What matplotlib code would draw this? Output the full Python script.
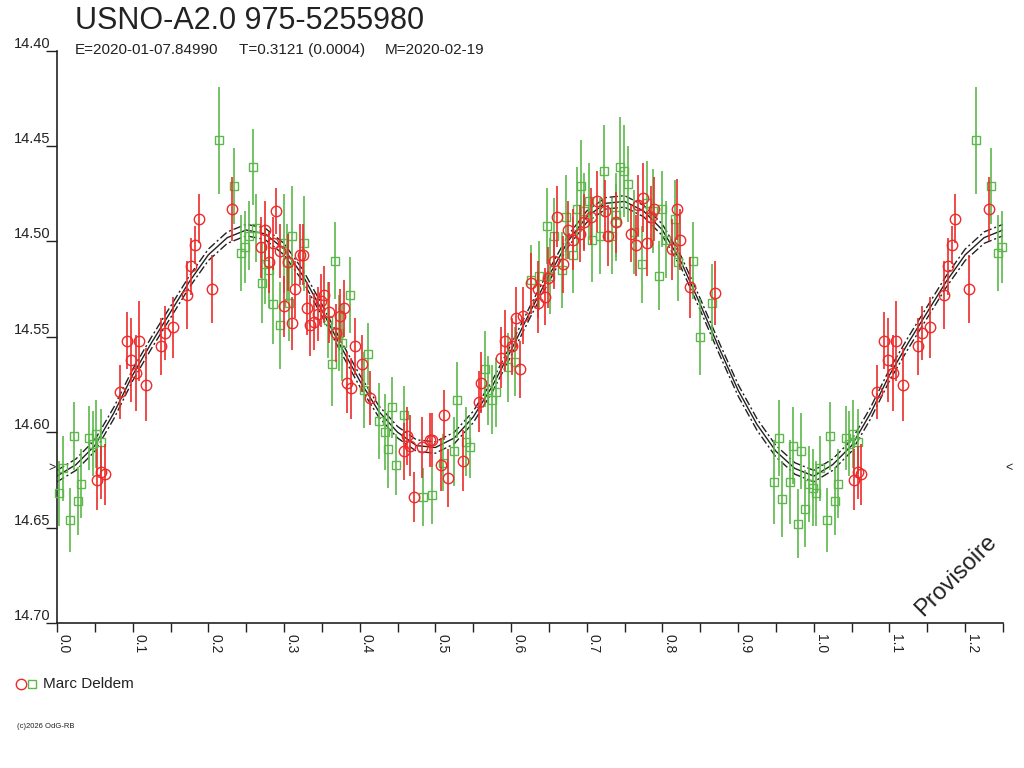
import numpy as np
import matplotlib
matplotlib.use("Agg")
import matplotlib.pyplot as plt
from matplotlib.ticker import MultipleLocator, FormatStrFormatter

plt.rcParams['font.family'] = ['Liberation Sans', 'DejaVu Sans']

TITLE = "USNO-A2.0 975-5255980"
EPOCH = "E=2020-01-07.84990"
PERIOD = "T=0.3121 (0.0004)"
MEAN = "M=2020-02-19"
OBSERVER = "Marc Deldem"
COPYRIGHT = "(c)2026 OdG-RB"

# green squares: phase, magnitude, error
green_phase = [0.214, 0.234, 0.259, 0.263, 0.254, 0.249, 0.243, 0.022, 0.042, 0.052,
               0.047, 0.058, 0.008, 0.003, 0.032, 0.028, 0.017,
               0.311, 0.300, 0.326, 0.275, 0.280, 0.271, 0.304, 0.367, 0.285,
               0.307, 0.295, 0.387, 0.358, 0.372, 0.377, 0.363, 0.411, 0.405,
               0.443, 0.459, 0.426, 0.433, 0.438, 0.448, 0.484, 0.495, 0.510,
               0.723, 0.744, 0.749, 0.754, 0.692, 0.703, 0.687, 0.697, 0.672,
               0.647, 0.657, 0.707, 0.717, 0.733, 0.739, 0.738, 0.763, 0.773,
               0.682, 0.667, 0.652, 0.637, 0.626, 0.605, 0.596, 0.565, 0.569,
               0.580, 0.575, 0.529, 0.546, 0.540, 0.525,
               0.780, 0.800, 0.787, 0.816, 0.805, 0.795, 0.821, 0.840, 0.866,
               0.850, 0.954, 0.948, 0.958, 0.973, 0.968, 0.983, 0.979, 0.989,
               0.994, 0.999]
green_mag = [14.447, 14.471, 14.461, 14.493, 14.497, 14.503, 14.506, 14.602, 14.603, 14.601,
             14.606, 14.605, 14.619, 14.632, 14.627, 14.636, 14.646,
             14.497, 14.501, 14.501, 14.512, 14.515, 14.522, 14.511, 14.510, 14.533,
             14.532, 14.544, 14.528, 14.541, 14.548, 14.553, 14.564, 14.559, 14.578,
             14.587, 14.591, 14.594, 14.600, 14.609, 14.617, 14.634, 14.633, 14.616,
             14.463, 14.461, 14.463, 14.470, 14.471, 14.479, 14.483, 14.484, 14.487,
             14.492, 14.497, 14.499, 14.497, 14.497, 14.486, 14.490, 14.495, 14.512,
             14.507, 14.515, 14.518, 14.518, 14.520, 14.563, 14.566, 14.567, 14.578,
             14.579, 14.583, 14.583, 14.608, 14.605, 14.610,
             14.480, 14.483, 14.484, 14.488, 14.499, 14.518, 14.511, 14.510, 14.532,
             14.550, 14.603, 14.626, 14.635, 14.607, 14.626, 14.610, 14.648, 14.640,
             14.627, 14.629]
green_err = [0.028, 0.020, 0.020, 0.018, 0.018, 0.019, 0.020, 0.018, 0.017, 0.018,
             0.017, 0.017, 0.017, 0.017, 0.018, 0.018, 0.017,
             0.026, 0.026, 0.025, 0.021, 0.020, 0.021, 0.020, 0.020, 0.021,
             0.020, 0.023, 0.020, 0.020, 0.020, 0.020, 0.022, 0.016, 0.020,
             0.016, 0.015, 0.020, 0.020, 0.020, 0.016, 0.015, 0.015, 0.015,
             0.024, 0.026, 0.024, 0.020, 0.024, 0.020, 0.022, 0.020, 0.022,
             0.020, 0.020, 0.022, 0.020, 0.020, 0.022, 0.020, 0.022, 0.020,
             0.020, 0.020, 0.020, 0.018, 0.018, 0.018, 0.018, 0.020, 0.018,
             0.018, 0.018, 0.020, 0.016, 0.018, 0.018,
             0.022, 0.020, 0.022, 0.020, 0.020, 0.018, 0.020, 0.020, 0.020,
             0.020, 0.020, 0.022, 0.020, 0.020, 0.022, 0.020, 0.018, 0.020,
             0.020, 0.020]

# red circles: phase, magnitude, error
red_phase = [0.231, 0.187, 0.182, 0.177, 0.172, 0.205, 0.153, 0.143, 0.138, 0.093,
             0.109, 0.098, 0.104, 0.118, 0.083, 0.053, 0.058, 0.063,
             0.290, 0.270, 0.275, 0.280, 0.285, 0.295, 0.305, 0.321, 0.325,
             0.315, 0.300, 0.310, 0.330, 0.334, 0.340, 0.345, 0.353, 0.349,
             0.360, 0.374, 0.379, 0.369, 0.394, 0.403, 0.383, 0.389, 0.413,
             0.462, 0.466, 0.459, 0.482, 0.493, 0.496, 0.512, 0.508, 0.516, 0.472,
             0.714, 0.724, 0.705, 0.697, 0.661, 0.675, 0.691, 0.682, 0.728,
             0.739, 0.768, 0.759, 0.765, 0.657, 0.669, 0.649, 0.626, 0.636,
             0.645, 0.635, 0.606, 0.616, 0.592, 0.601, 0.587, 0.612, 0.560,
             0.557, 0.537,
             0.774, 0.785, 0.789, 0.819, 0.779, 0.813, 0.823, 0.837, 0.869]
red_mag = [14.483, 14.488, 14.502, 14.513, 14.528, 14.525, 14.545, 14.548, 14.555, 14.552,
           14.552, 14.562, 14.569, 14.575, 14.579, 14.625, 14.621, 14.622,
           14.484, 14.503, 14.494, 14.511, 14.501, 14.505, 14.511, 14.507, 14.507,
           14.525, 14.534, 14.543, 14.535, 14.544, 14.542, 14.538, 14.528, 14.531,
           14.537, 14.539, 14.535, 14.548, 14.555, 14.564, 14.574, 14.577, 14.582,
           14.602, 14.607, 14.610, 14.608, 14.604, 14.604, 14.591, 14.617, 14.624, 14.634,
           14.479, 14.484, 14.487, 14.490, 14.487, 14.494, 14.496, 14.499, 14.497,
           14.490, 14.481, 14.496, 14.502, 14.510, 14.512, 14.519, 14.522, 14.525,
           14.529, 14.532, 14.540, 14.539, 14.552, 14.555, 14.561, 14.567, 14.574,
           14.584, 14.615,
           14.477, 14.487, 14.483, 14.483, 14.501, 14.504, 14.499, 14.524, 14.527]
red_err = [0.017, 0.013, 0.010, 0.015, 0.018, 0.018, 0.016, 0.014, 0.015, 0.015,
           0.021, 0.022, 0.020, 0.019, 0.014, 0.016, 0.014, 0.016,
           0.012, 0.016, 0.015, 0.016, 0.014, 0.014, 0.015, 0.016, 0.016,
           0.015, 0.016, 0.014, 0.014, 0.016, 0.015, 0.014, 0.015, 0.014,
           0.016, 0.014, 0.015, 0.015, 0.015, 0.015, 0.016, 0.016, 0.014,
           0.015, 0.016, 0.015, 0.016, 0.014, 0.014, 0.013, 0.014, 0.015, 0.013,
           0.016, 0.016, 0.015, 0.015, 0.016, 0.015, 0.015, 0.016, 0.016,
           0.016, 0.016, 0.015, 0.016, 0.015, 0.015, 0.016, 0.016, 0.015,
           0.015, 0.016, 0.016, 0.015, 0.016, 0.015, 0.016, 0.015, 0.016,
           0.016, 0.016,
           0.018, 0.016, 0.017, 0.016, 0.017, 0.016, 0.016, 0.016, 0.017]

# fitted light curve, phase 0..1
curve_phase = [0.000, 0.025, 0.050, 0.075, 0.100, 0.125, 0.150, 0.175, 0.200, 0.225,
               0.250, 0.275, 0.300, 0.325, 0.350, 0.375, 0.400, 0.425, 0.450, 0.475,
               0.500, 0.525, 0.550, 0.575, 0.600, 0.625, 0.650, 0.675, 0.700, 0.725,
               0.750, 0.775, 0.800, 0.825, 0.850, 0.875, 0.900, 0.925, 0.950, 0.975,
               1.000]
curve_mag = [14.623, 14.617, 14.607, 14.590, 14.570, 14.553, 14.537, 14.521, 14.507, 14.498,
             14.494, 14.496, 14.504, 14.518, 14.536, 14.555, 14.573, 14.589, 14.600, 14.607,
             14.608, 14.603, 14.592, 14.576, 14.557, 14.537, 14.518, 14.500, 14.487, 14.480,
             14.479, 14.484, 14.494, 14.511, 14.533, 14.556, 14.578, 14.596, 14.610, 14.619,
             14.623]
curve_sigma = 0.003
minimum_mag = 14.619

XMAX = 1.25
GREEN = '#5cb84a'
RED = '#ee2a2a'
INK = '#222222'


def extend(phase, *cols):
    """Repeat the points of phase < XMAX-1 one cycle later."""
    phase = np.asarray(phase)
    keep = phase + 1 <= XMAX
    out = [np.concatenate([phase, phase[keep] + 1])]
    for c in cols:
        c = np.asarray(c)
        out.append(np.concatenate([c, c[keep]]))
    return out


fig = plt.figure(figsize=(10.24, 7.68), dpi=100)
ax = fig.add_axes([57 / 1024, 1 - 623 / 768, 946 / 1024, 572.3 / 768])

# fitted curve with its band
cp, cm = extend(curve_phase[:-1], curve_mag[:-1])
order = np.argsort(cp)
cp, cm = cp[order], cm[order]
cp = np.append(cp, XMAX)
cm = np.append(cm, np.interp(XMAX - 1, curve_phase, curve_mag))
ax.plot(cp, cm, color=INK, lw=1.0, zorder=2)
for s in (-curve_sigma, curve_sigma):
    ax.plot(cp, cm + s, color=INK, lw=1.0, dashes=(6, 2, 1.5, 2), zorder=2)

gp, gm, ge = extend(green_phase, green_mag, green_err)
rp, rm, re_ = extend(red_phase, red_mag, red_err)
ax.errorbar(gp, gm, yerr=ge, fmt='s', ms=6, mfc='none', mec=GREEN, mew=1.0,
            ecolor=GREEN, elinewidth=1.2, capsize=0, zorder=3, clip_on=False)
ax.errorbar(rp, rm, yerr=re_, fmt='o', ms=7.5, mfc='none', mec=RED, mew=1.0,
            ecolor=RED, elinewidth=1.2, capsize=0, zorder=4, clip_on=False)

ax.set_xlim(0, XMAX)
ax.set_ylim(14.70, 14.40)
for side in ('top', 'right'):
    ax.spines[side].set_visible(False)
for side in ('left', 'bottom'):
    ax.spines[side].set_color(INK)
    ax.spines[side].set_linewidth(1.2)

ax.yaxis.set_major_locator(MultipleLocator(0.05))
ax.yaxis.set_major_formatter(FormatStrFormatter('%.2f'))
ax.xaxis.set_major_locator(MultipleLocator(0.1))
ax.xaxis.set_minor_locator(MultipleLocator(0.05))
ax.xaxis.set_major_formatter(FormatStrFormatter('%.1f'))
ax.tick_params(axis='y', direction='out', length=8, width=1, color=INK,
               labelsize=10.5, labelcolor=INK, pad=-3.4)
ax.tick_params(axis='x', which='both', direction='out', length=6.5, width=1,
               color=INK, labelsize=10, labelcolor=INK, pad=1.5)
for lab in ax.get_yticklabels():
    lab.set_verticalalignment('bottom')
for lab in ax.get_xticklabels():
    lab.set_rotation(-90)
    lab.set_horizontalalignment('left')
    lab.set_verticalalignment('top')

# markers of the minimum level on both edges
ax.text(-0.002, minimum_mag, '>', ha='right', va='center', fontsize=9, color=INK)
ax.text(XMAX + 0.003, minimum_mag, '<', ha='left', va='center', fontsize=9, color=INK)

ax.text(0.950, 0.082, 'Provisoire', transform=ax.transAxes, rotation=45,
        rotation_mode='anchor', ha='center', va='center', fontsize=17, color=INK)

fig.text(75 / 1024, 1 - 29 / 768, TITLE, fontsize=22, color=INK, va='baseline')
fig.text(75 / 1024, 1 - 54 / 768, EPOCH, fontsize=11, color=INK, va='baseline')
fig.text(239 / 1024, 1 - 54 / 768, PERIOD, fontsize=11, color=INK, va='baseline')
fig.text(385 / 1024, 1 - 54 / 768, MEAN, fontsize=11, color=INK, va='baseline')

# legend
fig.lines.append(plt.Line2D([20.7 / 1024], [1 - 683.5 / 768], transform=fig.transFigure,
                            marker='o', ms=7.5, mfc='none', mec=RED, mew=1.0, ls='none'))
fig.lines.append(plt.Line2D([32.3 / 1024], [1 - 683.5 / 768], transform=fig.transFigure,
                            marker='s', ms=6, mfc='none', mec=GREEN, mew=1.0, ls='none'))
fig.text(43 / 1024, 1 - 683.5 / 768, OBSERVER, fontsize=11, color=INK, va='center')
fig.text(17 / 1024, 1 - 726 / 768, COPYRIGHT, fontsize=5.5, color=INK, va='center')

fig.savefig('out.png', dpi=100, facecolor='white')
